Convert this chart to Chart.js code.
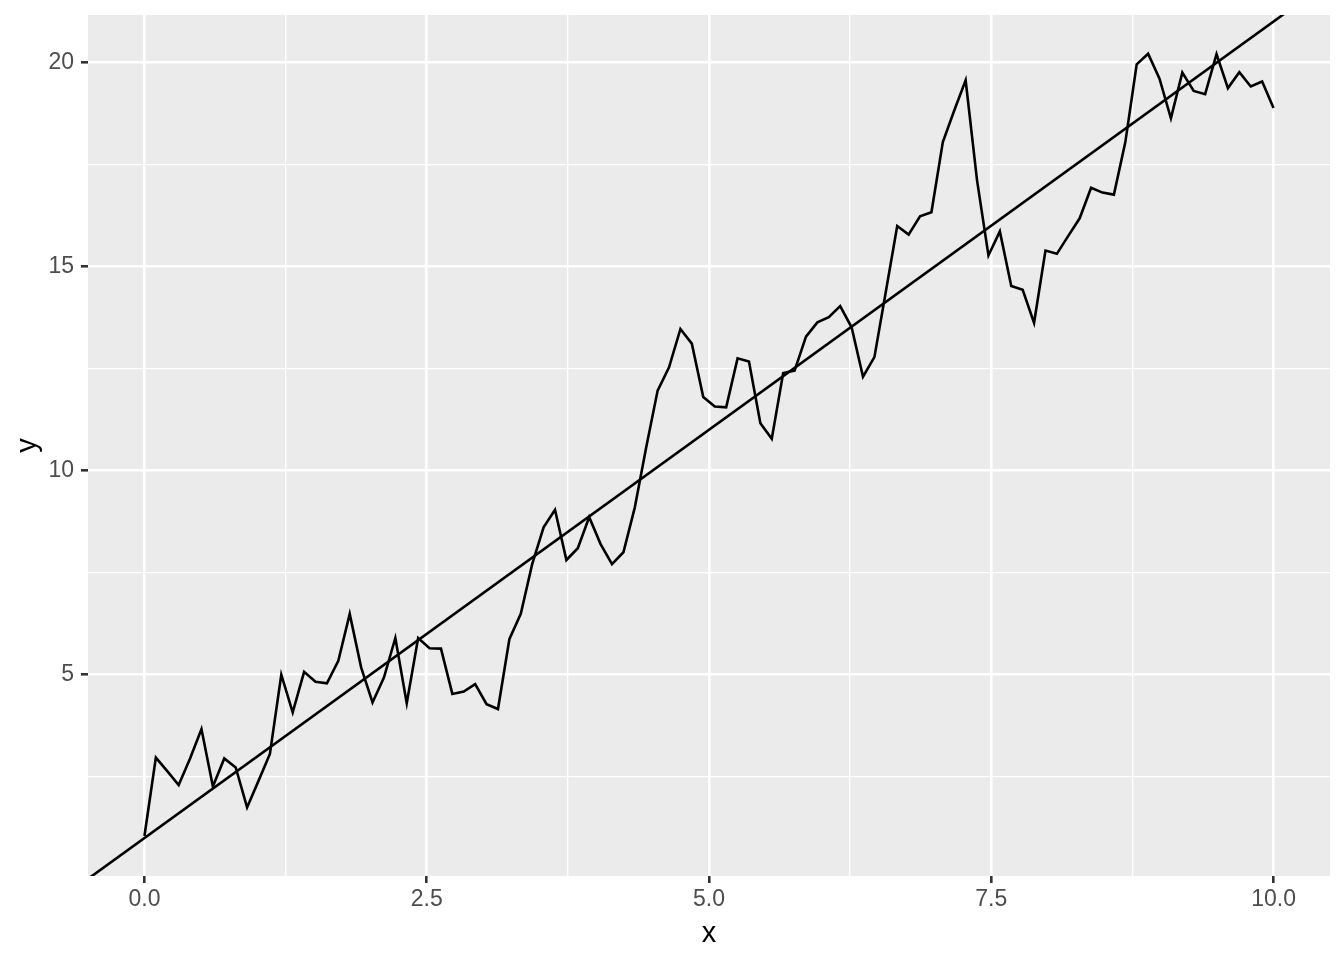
<!DOCTYPE html>
<html>
<head>
<meta charset="utf-8">
<style>
  html, body { margin: 0; padding: 0; background: #ffffff; }
  #plot { display: block; }
</style>
</head>
<body>
<canvas id="plot" width="1344" height="960"></canvas>
<script src="https://cdn.jsdelivr.net/npm/chart.js"></script>
<script>
  // x values: 100 evenly spaced points from 0 to 10
  const xVals = [0, 0.101, 0.202, 0.303, 0.404, 0.505, 0.606, 0.707, 0.808, 0.909,
    1.010, 1.111, 1.212, 1.313, 1.414, 1.515, 1.616, 1.717, 1.818, 1.919,
    2.020, 2.121, 2.222, 2.323, 2.424, 2.525, 2.626, 2.727, 2.828, 2.929,
    3.030, 3.131, 3.232, 3.333, 3.434, 3.535, 3.636, 3.737, 3.838, 3.939,
    4.040, 4.141, 4.242, 4.343, 4.444, 4.545, 4.646, 4.747, 4.848, 4.949,
    5.051, 5.152, 5.253, 5.354, 5.455, 5.556, 5.657, 5.758, 5.859, 5.960,
    6.061, 6.162, 6.263, 6.364, 6.465, 6.566, 6.667, 6.768, 6.869, 6.970,
    7.071, 7.172, 7.273, 7.374, 7.475, 7.576, 7.677, 7.778, 7.879, 7.980,
    8.081, 8.182, 8.283, 8.384, 8.485, 8.586, 8.687, 8.788, 8.889, 8.990,
    9.091, 9.192, 9.293, 9.394, 9.495, 9.596, 9.697, 9.798, 9.899, 10];

  const yVals = [1.05, 2.97, 2.64, 2.30, 2.95, 3.67, 2.26, 2.95, 2.73, 1.75,
    2.40, 3.06, 5.00, 4.08, 5.07, 4.83, 4.79, 5.34, 6.49, 5.18,
    4.32, 4.93, 5.90, 4.30, 5.90, 5.65, 5.64, 4.53, 4.59, 4.77,
    4.28, 4.16, 5.87, 6.49, 7.71, 8.61, 9.04, 7.81, 8.10, 8.86,
    8.20, 7.71, 8.00, 9.10, 10.57, 11.96, 12.53, 13.47, 13.11, 11.80,
    11.57, 11.55, 12.75, 12.67, 11.16, 10.78, 12.39, 12.45, 13.28, 13.63,
    13.76, 14.03, 13.51, 12.30, 12.78, 14.38, 15.99, 15.78, 16.23, 16.33,
    18.05, 18.82, 19.56, 17.11, 15.27, 15.86, 14.52, 14.43, 13.62, 15.39,
    15.31, 15.75, 16.18, 16.93, 16.81, 16.76, 18.04, 19.95, 20.21, 19.60,
    18.63, 19.75, 19.30, 19.22, 20.20, 19.37, 19.76, 19.41, 19.53, 18.88];

  // reference line y = 1 + 2x, spanning the whole panel
  const fitX = [-0.5, 10.5];
  const fitY = [0, 22];

  const xTicks = [0, 1.25, 2.5, 3.75, 5, 6.25, 7.5, 8.75, 10];
  const yTicks = [2.5, 5, 7.5, 10, 12.5, 15, 17.5, 20];
  const xMajorStep = 2.5;
  const yMajorStep = 5;

  const FONT = '"Liberation Sans", Arial, Helvetica, sans-serif';

  const panelBg = {
    id: 'panelBg',
    beforeDraw(chart) {
      const a = chart.chartArea;
      const c = chart.ctx;
      c.save();
      c.fillStyle = '#EBEBEB';
      c.fillRect(a.left, a.top, a.right - a.left, a.bottom - a.top);
      c.restore();
    }
  };

  const isMajor = (v, step) => Math.abs(v / step - Math.round(v / step)) < 1e-6;

  new Chart(document.getElementById('plot').getContext('2d'), {
    type: 'line',
    data: {
      datasets: [
        {
          data: xVals.map((x, i) => ({ x: x, y: yVals[i] })),
          borderColor: '#000000',
          borderWidth: 2.6,
          pointRadius: 0,
          tension: 0,
          fill: false,
          clip: 0
        },
        {
          data: fitX.map((x, i) => ({ x: x, y: fitY[i] })),
          borderColor: '#000000',
          borderWidth: 2.6,
          pointRadius: 0,
          tension: 0,
          fill: false,
          clip: 0
        }
      ]
    },
    options: {
      responsive: false,
      animation: false,
      events: [],
      layout: { padding: { left: 0, top: 15, right: 14, bottom: 0 } },
      plugins: { legend: { display: false }, tooltip: { enabled: false } },
      scales: {
        x: {
          type: 'linear',
          min: -0.5,
          max: 10.5,
          afterBuildTicks: s => { s.ticks = xTicks.map(v => ({ value: v })); },
          afterFit: s => { s.height = 84; s.paddingLeft = 0; s.paddingRight = 0; },
          border: { display: false },
          grid: {
            color: '#FFFFFF',
            lineWidth: c => (c.tick && isMajor(c.tick.value, xMajorStep)) ? 2.6 : 1.3,
            tickColor: c => (c.tick && isMajor(c.tick.value, xMajorStep)) ? '#333333' : 'rgba(0,0,0,0)',
            tickWidth: 2.6,
            tickLength: 7
          },
          ticks: {
            autoSkip: false,
            maxRotation: 0,
            color: '#4D4D4D',
            font: { family: FONT, size: 23 },
            padding: 3,
            callback: v => isMajor(v, xMajorStep) ? v.toFixed(1) : ''
          },
          title: {
            display: true,
            text: 'x',
            color: '#000000',
            font: { family: FONT, size: 29 },
            padding: { top: 0, bottom: 9 }
          }
        },
        y: {
          type: 'linear',
          min: 0.07,
          max: 21.16,
          afterBuildTicks: s => { s.ticks = yTicks.map(v => ({ value: v })); },
          afterFit: s => { s.width = 88; s.paddingTop = 0; s.paddingBottom = 0; },
          border: { display: false },
          grid: {
            color: '#FFFFFF',
            lineWidth: c => (c.tick && isMajor(c.tick.value, yMajorStep)) ? 2.6 : 1.3,
            tickColor: c => (c.tick && isMajor(c.tick.value, yMajorStep)) ? '#333333' : 'rgba(0,0,0,0)',
            tickWidth: 2.6,
            tickLength: 7
          },
          ticks: {
            autoSkip: false,
            color: '#4D4D4D',
            font: { family: FONT, size: 23 },
            padding: 7,
            callback: v => isMajor(v, yMajorStep) ? String(v) : ''
          },
          title: {
            display: true,
            text: 'y',
            color: '#000000',
            font: { family: FONT, size: 29 },
            padding: { top: 11, bottom: 0 }
          }
        }
      }
    },
    plugins: [panelBg]
  });
</script>
</body>
</html>
